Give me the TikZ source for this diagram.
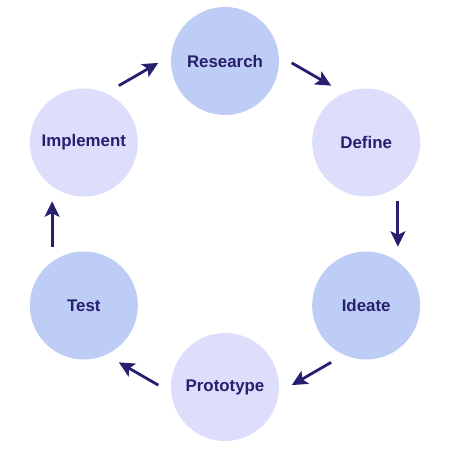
\documentclass[tikz,border=0pt]{standalone}
\usepackage{fontspec}
\setmainfont{Liberation Sans}
\usetikzlibrary{arrows.meta}
\definecolor{navy}{RGB}{38,32,110}
\definecolor{bluefill}{RGB}{190,205,245}
\definecolor{lilacfill}{RGB}{221,221,252}

\begin{document}
\begin{tikzpicture}[thick,every node/.style={inner sep=2pt},
    >={Stealth[length=11pt,width=10.5pt,inset=2.5pt]},
    phase/.style={circle,minimum size=2.7cm,text=navy,
      font=\bfseries\fontsize{12}{14}\selectfont},
    flow/.style={->,draw=navy,fill=navy,line width=2pt}]
  \useasboundingbox(-5.625,-5.65)rectangle(5.625,5.6);
  \foreach \ang/\name/\txt/\col in {90/res/Research/bluefill,
      30/def/Define/lilacfill,-30/ide/Ideate/bluefill,
      -90/pro/Prototype/lilacfill,-150/tst/Test/bluefill,
      150/imp/Implement/lilacfill}
    \node[phase,fill=\col](\name) at (\ang:4.075){\txt};
  \foreach \ang [count=\i] in {60,0,-60,-120,180,120}
    {\coordinate(s\i) at (\ang+7.5:4.36);
     \coordinate(e\i) at (\ang-7.5:4.36);
     \draw[flow](s\i)--(e\i);}
\end{tikzpicture}
\end{document}
